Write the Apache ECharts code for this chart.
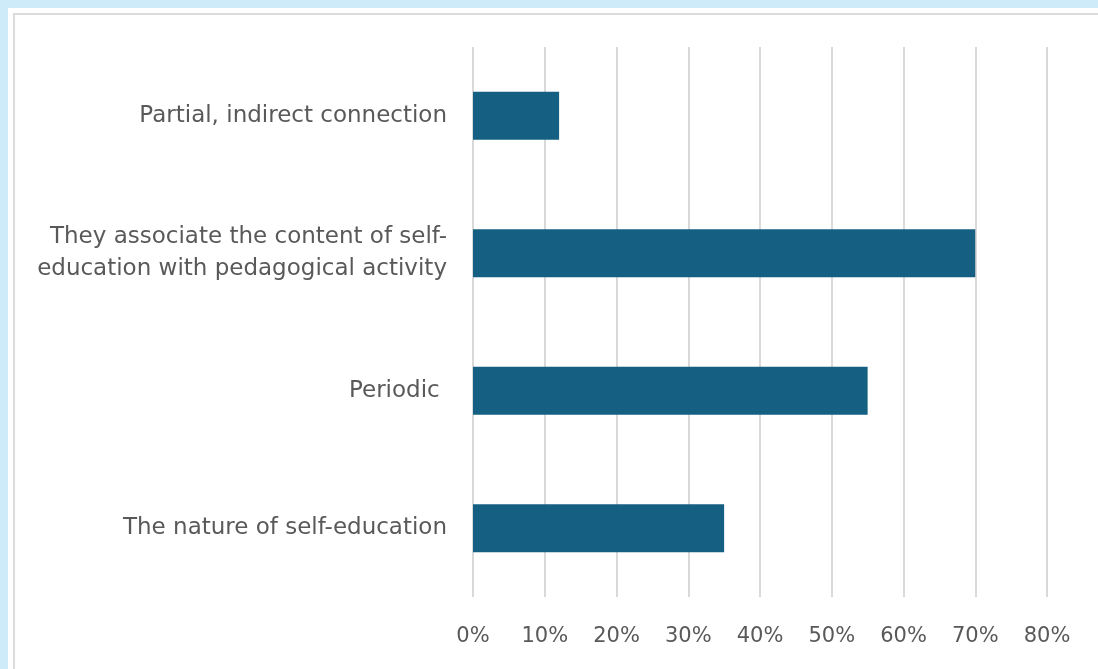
<!DOCTYPE html>
<html>
<head>
<meta charset="utf-8">
<script src="https://cdn.jsdelivr.net/npm/echarts@6/dist/echarts.min.js"></script>
<style>
  html, body { margin: 0; padding: 0; width: 1098px; height: 669px; overflow: hidden; background: #cdebf8; }
  #panel { position: absolute; left: 8px; top: 8px; width: 1090px; height: 661px; background: #fff; }
  #frame { position: absolute; left: 5px; top: 5px; right: -10px; bottom: -10px; border: 2px solid #dcdcdc; }
  #chart { position: absolute; left: -8px; top: -8px; width: 1098px; height: 669px; }
</style>
</head>
<body>
<div id="panel"><div id="frame"></div><div id="chart"></div></div>
<script>
// categories listed bottom to top (category axis starts at the bottom)
const categories = [
  'The nature of self-education',
  'Periodic ',
  'They associate the content of self-\neducation with pedagogical activity',
  'Partial, indirect connection'
];
const shares = [35, 55, 70, 12];

var chartDom = document.getElementById('chart');
var myChart = echarts.init(chartDom);
var option;

option = {
  animation: false,
  grid: { left: 473, right: 51, top: 47, bottom: 72, containLabel: false },
  xAxis: {
    type: 'value',
    min: 0,
    max: 80,
    interval: 10,
    axisLine: { show: false },
    axisTick: { show: false },
    splitLine: { lineStyle: { color: '#d9d9d9', width: 2 } },
    axisLabel: {
      formatter: '{value}%',
      color: '#595959',
      fontSize: 21,
      fontFamily: 'DejaVu Sans',
      margin: 29
    }
  },
  yAxis: {
    type: 'category',
    data: categories,
    axisLine: { show: false },
    axisTick: { show: false },
    axisLabel: {
      color: '#595959',
      fontSize: 23,
      fontFamily: 'DejaVu Sans',
      lineHeight: 32,
      align: 'right',
      margin: 26
    }
  },
  series: [
    {
      type: 'bar',
      data: shares,
      barWidth: 48,
      itemStyle: { color: '#156082' }
    }
  ]
};
option && myChart.setOption(option);
</script>
</body>
</html>
